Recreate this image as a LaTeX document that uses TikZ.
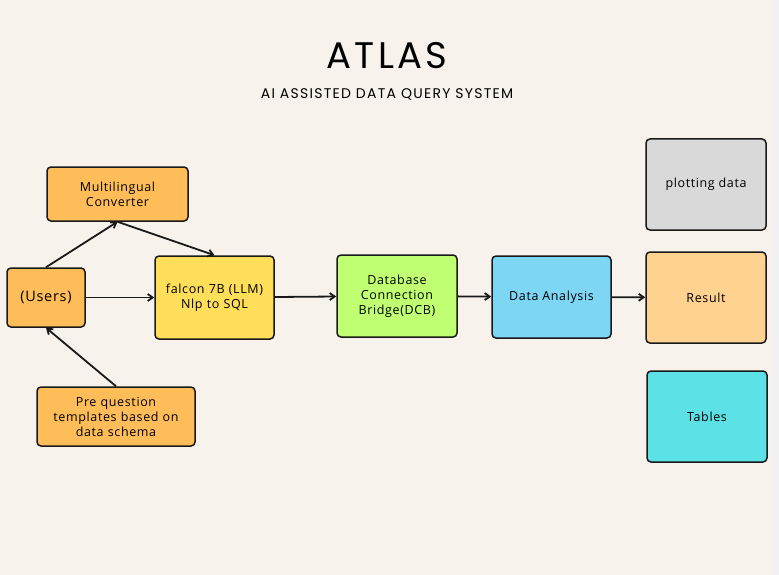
\documentclass[tikz,border=0pt]{standalone}
\usepackage{fontspec}
\setmainfont{Open Sans}[LetterSpace=5]
\newfontfamily\titlefont{Poppins}[LetterSpace=9]
\usetikzlibrary{arrows.meta, positioning}

\definecolor{paper}{HTML}{F7F3EC}
\definecolor{strip}{HTML}{F1F1F1}
\definecolor{boxorange}{HTML}{FFBD59}
\definecolor{boxyellow}{HTML}{FFDE59}
\definecolor{boxgreen}{HTML}{C1FF72}
\definecolor{boxblue}{HTML}{7ED6F5}
\definecolor{boxgray}{HTML}{D9D9D9}
\definecolor{boxpeach}{HTML}{FFD28F}
\definecolor{boxcyan}{HTML}{5CE1E6}

\begin{document}
\begin{tikzpicture}[x=1pt, y=-1pt,
		flow/.style={-{Straight Barb[length=5pt, width=7pt]}, line width=1.8pt, draw=black!90}
	]
	\tikzstyle{Box} = [ %rounded boxes of the flow
		rectangle,
		rounded corners=4pt,
		draw=black!90,
		line width=1.5pt,
		text centered,
		inner sep=2pt,
		font=\fontsize{12.5}{15}\selectfont
	]
	\tikzstyle{OrangeBox} = [Box, fill=boxorange]
	\tikzstyle{EndBox} = [Box, minimum width=120pt, minimum height=91pt]

	% page
	\fill[paper] (0,0) rectangle (779,575);
	\fill[strip] (772,0) rectangle (779,575);
	\useasboundingbox (0,0) rectangle (779,575);

	% heading
	\node (title) at (387,56) {\titlefont\fontsize{37}{40}\selectfont ATLAS};
	\node (subtitle) at (387,94) {\titlefont\fontsize{14}{16}\selectfont AI ASSISTED DATA QUERY SYSTEM};

	% left part
	\node (users) [OrangeBox, minimum width=78pt, minimum height=59pt, font=\fontsize{14.5}{16}\selectfont] at (46,297.5) {(Users)};
	\node (multi) [OrangeBox, minimum width=141pt, minimum height=54pt, text width=132pt] at (117.5,194) {Multilingual\\Converter};
	\node (pre) [OrangeBox, minimum width=158pt, minimum height=59pt, text width=150pt] at (116,416.5) {Pre question\\templates based on\\data schema};
	\node (llm) [Box, fill=boxyellow, minimum width=119pt, minimum height=83pt, text width=112pt] at (214.5,297.5) {falcon 7B (LLM)\\Nlp to SQL};

	% middle part
	\node (dcb) [Box, fill=boxgreen, minimum width=120pt, minimum height=82pt, text width=112pt] at (397,296) {Database\\Connection\\Bridge(DCB)};
	\node (analysis) [Box, fill=boxblue, minimum width=119pt, minimum height=82pt] at (551.5,297) {Data Analysis};

	% right column
	\node (plot) [EndBox, fill=boxgray] at (706,184.5) {plotting data};
	\node (result) [EndBox, fill=boxpeach] at (706,297.5) {Result};
	\node (tables) [EndBox, fill=boxcyan] at (707,416.5) {Tables};

	\draw[flow] (users.north) -- (multi.south);
	\draw[flow] (multi.south) -- (llm.north);
	\draw[flow] (users) -- (llm);
	\draw[flow] (pre.north) -- (users.south);
	\draw[flow] (llm) -- (dcb);
	\draw[flow] (dcb) -- (analysis);
	\draw[flow] (analysis) -- (result);
\end{tikzpicture}
\end{document}
